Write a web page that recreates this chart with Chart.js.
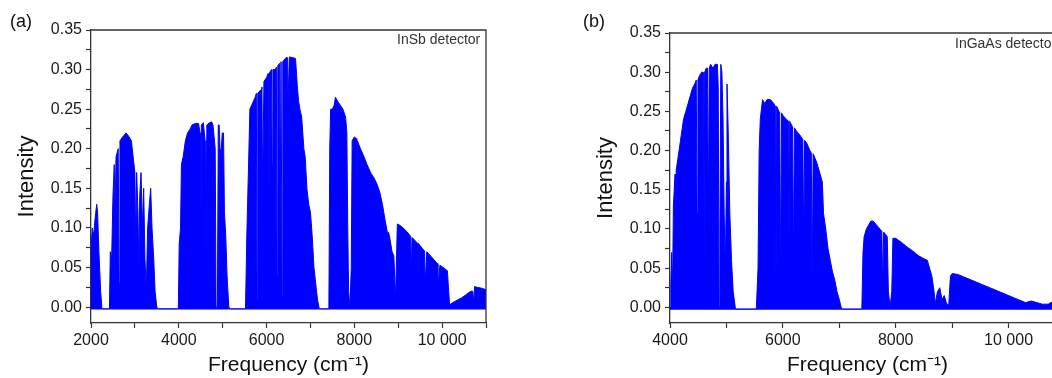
<!DOCTYPE html>
<html>
<head>
<meta charset="utf-8">
<script src="https://cdn.jsdelivr.net/npm/chart.js@4"></script>
<style>
  html, body { margin: 0; padding: 0; background: #fff; overflow: hidden; }
  body { width: 1052px; height: 378px; position: relative; font-family: 'Liberation Sans', Arial, sans-serif; }
  .panel { position: absolute; top: 0; width: 500px; height: 378px; }
  .tag { position: absolute; font-size: 18px; color: #111; }
  .note { position: absolute; font-size: 14px; color: #333; white-space: nowrap; }
</style>
</head>
<body>
<div class="panel" style="left:0"><canvas id="chartA" width="500" height="378"></canvas></div>
<div class="panel" style="left:579px"><canvas id="chartB" width="500" height="378"></canvas></div>
<div class="tag" style="left:10px;top:11px">(a)</div>
<div class="tag" style="left:583px;top:11px">(b)</div>
<div class="note" style="left:397px;top:31px">InSb detector</div>
<div class="note" style="left:955px;top:35px">InGaAs detector</div>
<script>
'use strict';

// ---- data (frequency in cm-1, intensity) ----
const freqA = [
  2000, 2030, 2060, 2090, 2130, 2150, 2180, 2220, 2250, 2420,
  2440, 2470, 2500, 2530, 2550, 2570, 2620, 2640, 2660, 2720,
  2800, 2870, 2920, 2960, 3000, 3020, 3040, 3070, 3090, 3110,
  3140, 3170, 3200, 3230, 3260, 3290, 3330, 3360, 3390, 3430,
  3460, 3500, 3530, 3990, 4010, 4040, 4060, 4100, 4150, 4200,
  4260, 4300, 4380, 4450, 4485, 4500, 4515, 4560, 4600, 4620,
  4640, 4700, 4750, 4780, 4830, 4850, 4880, 4900, 4920, 4940,
  4960, 4990, 5020, 5040, 5070, 5100, 5140, 5180, 5520, 5550,
  5590, 5620, 5660, 5700, 5740, 5768, 5784, 5800, 5880, 5895,
  5910, 5940, 6000, 6034, 6050, 6066, 6112, 6128, 6144, 6200,
  6224, 6240, 6256, 6300, 6310, 6330, 6338, 6354, 6370, 6440,
  6480, 6490, 6520, 6600, 6660, 6700, 6730, 6760, 6800, 6850,
  6880, 6920, 6960, 7000, 7040, 7080, 7120, 7160, 7200, 7420,
  7440, 7460, 7500, 7540, 7570, 7620, 7680, 7740, 7800, 7830,
  7850, 7870, 7900, 7930, 7950, 8000, 8040, 8055, 8070, 8140,
  8220, 8290, 8370, 8450, 8520, 8580, 8640, 8700, 8750, 8765,
  8780, 8800, 8860, 8900, 8940, 8960, 8980, 9050, 9150, 9250,
  9285, 9300, 9315, 9350, 9435, 9450, 9465, 9550, 9600, 9615,
  9650, 9750, 9890, 9905, 9950, 10050, 10120, 10150, 10170, 10250,
  10350, 10450, 10550, 10650, 10700, 10720, 10740, 10800, 10900, 11000
];
const intensityA = [
  0.075, 0.10, 0.09, 0.11, 0.13, 0.12, 0.07, 0.02, -0.002, -0.002,
  0.07, 0.06, 0.14, 0.18, 0.12, 0.19, 0.20, 0.03, 0.21, 0.215,
  0.22, 0.215, 0.21, 0.19, 0.17, 0.08, 0.17, 0.12, 0.05, 0.14,
  0.17, 0.10, 0.15, 0.06, 0.02, 0.10, 0.13, 0.15, 0.10, 0.06,
  0.02, 0.0, -0.002, -0.002, 0.08, 0.10, 0.18, 0.19, 0.21, 0.22,
  0.225, 0.23, 0.232, 0.232, 0.22, 0.02, 0.23, 0.233, 0.21, 0.05,
  0.23, 0.233, 0.234, 0.23, 0.20, 0.0, 0.0, 0.23, 0.23, 0.20,
  0.19, 0.22, 0.22, 0.12, 0.09, 0.04, 0.0, -0.002, -0.002, 0.09,
  0.18, 0.25, 0.255, 0.26, 0.265, 0.27, 0.01, 0.27, 0.275, 0.278,
  0.15, 0.285, 0.29, 0.295, 0.03, 0.296, 0.30, 0.18, 0.30, 0.30,
  0.303, 0.04, 0.305, 0.308, 0.12, 0.31, 0.31, 0.015, 0.31, 0.315,
  0.315, 0.26, 0.316, 0.315, 0.314, 0.28, 0.26, 0.25, 0.24, 0.20,
  0.19, 0.15, 0.13, 0.12, 0.09, 0.05, 0.03, 0.01, -0.002, -0.002,
  0.20, 0.25, 0.25, 0.255, 0.265, 0.26, 0.255, 0.25, 0.24, 0.22,
  0.10, 0.02, 0.0, 0.05, 0.21, 0.215, 0.213, 0.12, 0.21, 0.20,
  0.19, 0.18, 0.17, 0.163, 0.155, 0.145, 0.13, 0.11, 0.095, 0.04,
  0.094, 0.09, 0.07, 0.065, 0.01, 0.06, 0.105, 0.103, 0.098, 0.092,
  0.089, 0.04, 0.088, 0.086, 0.081, 0.035, 0.080, 0.074, 0.071, 0.03,
  0.070, 0.064, 0.055, 0.025, 0.053, 0.049, 0.046, 0.02, 0.003, 0.006,
  0.009, 0.012, 0.016, 0.02, 0.02, 0.005, 0.026, 0.025, 0.024, 0.022
];

const freqB = [
  4000, 4015, 4030, 4045, 4060, 4090, 4100, 4110, 4160, 4200,
  4240, 4280, 4320, 4360, 4400, 4440, 4465, 4480, 4495, 4520,
  4560, 4585, 4600, 4615, 4640, 4665, 4680, 4695, 4720, 4760,
  4800, 4840, 4855, 4870, 4885, 4900, 4920, 4940, 4960, 4980,
  5000, 5010, 5030, 5060, 5090, 5120, 5160, 5530, 5560, 5580,
  5600, 5640, 5680, 5720, 5780, 5840, 5862, 5878, 5894, 5930,
  5944, 5960, 5976, 6000, 6060, 6092, 6108, 6124, 6172, 6188,
  6204, 6240, 6300, 6354, 6370, 6386, 6420, 6480, 6504, 6520,
  6536, 6600, 6640, 6680, 6700, 6720, 6760, 6800, 6840, 6880,
  6920, 6960, 7000, 7040, 7400, 7420, 7440, 7480, 7520, 7560,
  7600, 7660, 7720, 7754, 7770, 7786, 7820, 7850, 7870, 7900,
  7930, 7950, 8000, 8100, 8200, 8300, 8400, 8500, 8560, 8600,
  8640, 8680, 8700, 8740, 8780, 8820, 8860, 8900, 8940, 8970,
  9000, 9100, 9200, 9300, 9400, 9500, 9600, 9700, 9800, 9900,
  10000, 10100, 10200, 10300, 10400, 10500, 10600, 10700, 10800, 10900,
  11000
];
const intensityB = [
  0.0, 0.03, 0.07, 0.02, 0.13, 0.17, 0.05, 0.175, 0.20, 0.22,
  0.24, 0.25, 0.26, 0.27, 0.28, 0.285, 0.29, 0.12, 0.29, 0.295,
  0.30, 0.30, 0.0, 0.30, 0.305, 0.305, 0.12, 0.305, 0.31, 0.305,
  0.31, 0.31, 0.28, 0.0, 0.10, 0.31, 0.30, 0.24, 0.12, 0.05,
  0.16, 0.285, 0.23, 0.12, 0.06, 0.02, -0.002, -0.002, 0.05, 0.20,
  0.24, 0.265, 0.26, 0.265, 0.265, 0.26, 0.257, 0.0, 0.256, 0.25,
  0.249, 0.03, 0.248, 0.245, 0.24, 0.238, 0.07, 0.237, 0.23, 0.05,
  0.229, 0.225, 0.22, 0.214, 0.08, 0.213, 0.21, 0.20, 0.197, 0.02,
  0.196, 0.185, 0.175, 0.165, 0.16, 0.12, 0.10, 0.075, 0.06, 0.045,
  0.035, 0.02, 0.01, -0.002, -0.002, 0.07, 0.09, 0.10, 0.105, 0.11,
  0.11, 0.105, 0.10, 0.097, 0.02, 0.096, 0.093, 0.09, 0.02, 0.0,
  0.02, 0.088, 0.088, 0.083, 0.077, 0.072, 0.066, 0.062, 0.06, 0.05,
  0.04, 0.02, 0.005, 0.02, 0.025, 0.01, 0.015, 0.005, 0.003, 0.04,
  0.043, 0.042, 0.039, 0.036, 0.033, 0.03, 0.027, 0.024, 0.021, 0.018,
  0.015, 0.012, 0.009, 0.006, 0.008, 0.006, 0.004, 0.004, 0.008, 0.007,
  0.006
];

// axis ticks
const yMajorTicks = [0, 0.05, 0.10, 0.15, 0.20, 0.25, 0.30, 0.35];
const yTickLabels = ['0.00', '0.05', '0.10', '0.15', '0.20', '0.25', '0.30', '0.35'];
const yMinorTicks = [0.025, 0.075, 0.125, 0.175, 0.225, 0.275, 0.325];
const xMajorTicksA = [2000, 4000, 6000, 8000, 10000];
const xMinorTicksA = [3000, 5000, 7000, 9000, 11000];
const xMajorTicksB = [4000, 6000, 8000, 10000];
const xMinorTicksB = [5000, 7000, 9000, 11000];
const xTickLabelsA = ['2000', '4000', '6000', '8000', '10 000'];
const xTickLabelsB = ['4000', '6000', '8000', '10 000'];

const FONT = "'Liberation Sans', Arial, sans-serif";
const AXIS_COLOR = '#333';
const SPEC_BLUE = '#0000ff';

// top + right frame lines
const framePlugin = {
  id: 'frame',
  afterDraw(chart) {
    const { ctx, chartArea: a } = chart;
    ctx.save();
    ctx.strokeStyle = AXIS_COLOR;
    ctx.lineWidth = 1.3;
    ctx.beginPath();
    ctx.moveTo(a.left, a.top);
    ctx.lineTo(a.right, a.top);
    ctx.lineTo(a.right, a.bottom);
    ctx.stroke();
    ctx.restore();
  }
};

function setTicks(majors, minors) {
  return (scale) => {
    scale.ticks = majors.concat(minors).sort((p, q) => p - q).map(v => ({ value: v }));
  };
}

function labelFor(majors, labels) {
  return (value) => {
    const i = majors.indexOf(value);
    return i >= 0 ? labels[i] : '';
  };
}

function makeSpectrum(canvasId, freq, intensity, xMin, xMajors, xMinors, xLabels, padTop) {
  const ctx = document.getElementById(canvasId).getContext('2d');
  return new Chart(ctx, {
    type: 'line',
    data: {
      datasets: [{
        data: freq.map((f, i) => ({ x: f, y: intensity[i] })),
        borderColor: SPEC_BLUE,
        backgroundColor: SPEC_BLUE,
        borderWidth: 1,
        pointRadius: 0,
        tension: 0,
        fill: { value: -0.003 }
      }]
    },
    options: {
      responsive: false,
      animation: false,
      devicePixelRatio: 1,
      layout: { padding: { top: padTop, right: 14, left: 0, bottom: 0 } },
      plugins: { legend: { display: false }, tooltip: { enabled: false } },
      scales: {
        x: {
          type: 'linear',
          min: xMin,
          max: 11000,
          afterBuildTicks: setTicks(xMajors, xMinors),
          afterFit: (s) => { s.height = 55; },
          grid: { drawOnChartArea: false, tickLength: 5, color: AXIS_COLOR, tickWidth: 1.2 },
          border: { color: AXIS_COLOR, width: 1.3 },
          ticks: {
            autoSkip: false, maxRotation: 0, padding: 3,
            color: '#1a1a1a', font: { family: FONT, size: 16 },
            callback: labelFor(xMajors, xLabels)
          },
          title: {
            display: true, text: 'Frequency (cm\u207B\u00B9)', color: '#111',
            font: { family: FONT, size: 21 }, padding: { top: 0, bottom: 0 }
          }
        },
        y: {
          min: -0.02,
          max: 0.35,
          afterBuildTicks: setTicks(yMajorTicks, yMinorTicks),
          afterFit: (s) => { s.width = 91; },
          grid: { drawOnChartArea: false, tickLength: 5, color: AXIS_COLOR, tickWidth: 1.2 },
          border: { color: AXIS_COLOR, width: 1.3 },
          ticks: {
            autoSkip: false, padding: 4,
            color: '#1a1a1a', font: { family: FONT, size: 16 },
            callback: labelFor(yMajorTicks, yTickLabels)
          },
          title: {
            display: true, text: 'Intensity', color: '#111',
            font: { family: FONT, size: 22 }, padding: { top: 14, bottom: 0 }
          }
        }
      }
    },
    plugins: [framePlugin]
  });
}

makeSpectrum('chartA', freqA, intensityA, 2000, xMajorTicksA, xMinorTicksA, xTickLabelsA, 30);
makeSpectrum('chartB', freqB, intensityB, 4000, xMajorTicksB, xMinorTicksB, xTickLabelsB, 33);
</script>
</body>
</html>
